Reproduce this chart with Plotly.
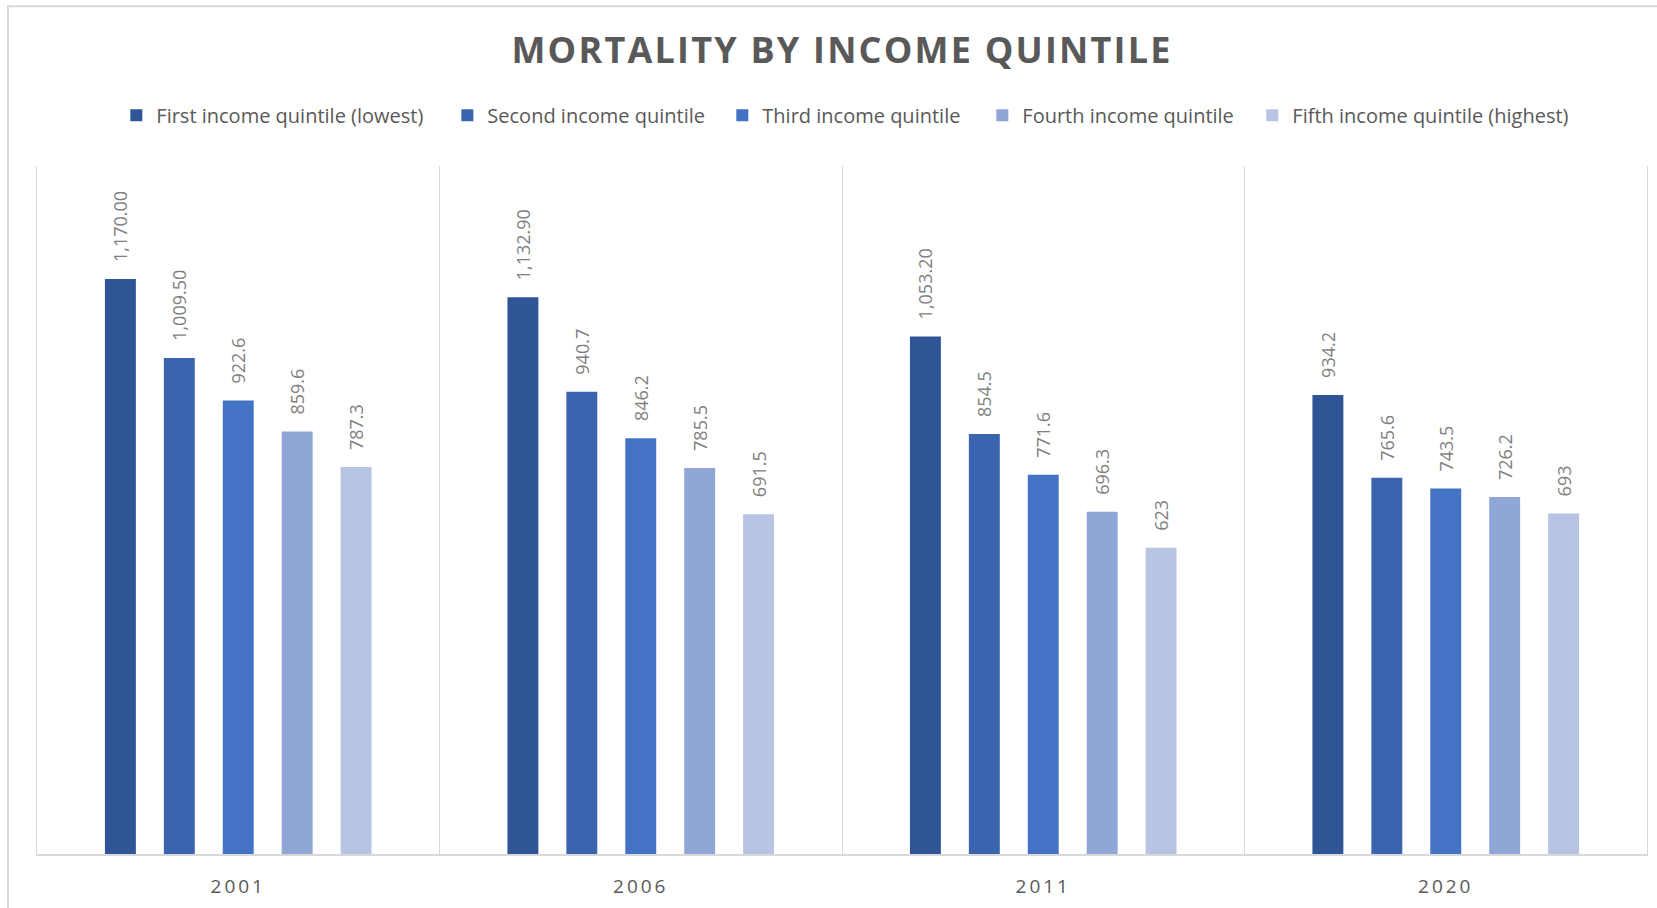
import plotly.graph_objects as go

years = ["2001", "2006", "2011", "2020"]
series_names = [
    "First income quintile (lowest)",
    "Second income quintile",
    "Third income quintile",
    "Fourth income quintile",
    "Fifth income quintile (highest)",
]
q1 = [1170.0, 1132.9, 1053.2, 934.2]
q2 = [1009.5, 940.7, 854.5, 765.6]
q3 = [922.6, 846.2, 771.6, 743.5]
q4 = [859.6, 785.5, 696.3, 726.2]
q5 = [787.3, 691.5, 623.0, 693.0]
q1_labels = ["1,170.00", "1,132.90", "1,053.20", "934.2"]
q2_labels = ["1,009.50", "940.7", "854.5", "765.6"]
q3_labels = ["922.6", "846.2", "771.6", "743.5"]
q4_labels = ["859.6", "785.5", "696.3", "726.2"]
q5_labels = ["787.3", "691.5", "623", "693"]
colors = ["#2F5597", "#3A64AD", "#4472C4", "#8FA6D6", "#B8C4E4"]
legend_widths = [286, 230, 215, 225, 280]

values = [q1, q2, q3, q4, q5]
labels = [q1_labels, q2_labels, q3_labels, q4_labels, q5_labels]

FONT = "Open Sans"
PAD = "\u00a0\u00a0\u00a0"

fig = go.Figure()
for name, vals, labs, col, lw in zip(series_names, values, labels, colors, legend_widths):
    fig.add_trace(go.Bar(
        name=name, x=years, y=vals,
        text=[PAD + t for t in labs],
        textposition="outside",
        textangle=-90,
        cliponaxis=False,
        constraintext="none",
        textfont=dict(family=FONT, size=18, color="#7F7F7F"),
        marker=dict(color=col, line=dict(width=0)),
        legendwidth=lw,
    ))

W, H = 1657, 908
ml, mr, mt, mb = 37, 9, 166, 49
pw, ph = W - ml - mr, H - mt - mb

fig.update_layout(
    width=W, height=H,
    margin=dict(l=ml, r=mr, t=mt, b=mb, pad=0),
    paper_bgcolor="white", plot_bgcolor="white",
    barmode="group", bargap=0.268, bargroupgap=0.475,
    title=dict(
        text="<b>MORTALITY BY INCOME QUINTILE</b>",
        x=0.5, xref="paper", xanchor="center",
        y=1 - 50 / H, yref="container", yanchor="middle",
        font=dict(family=FONT, size=36, color="#595959"),
    ),
    legend=dict(
        orientation="h", x=0.503, xanchor="center",
        y=(H - mb - 115) / ph, yanchor="middle",
        font=dict(family=FONT, size=20, color="#595959"),
        itemclick=False, traceorder="normal",
    ),
    xaxis=dict(
        type="category", tickson="boundaries", showgrid=True,
        gridcolor="#D9D9D9", gridwidth=1,
        showline=True, linecolor="#D9D9D9", linewidth=1.5,
        ticks="", ticklabelstandoff=14,
        tickfont=dict(family=FONT, size=19, color="#595959"),
    ),
    yaxis=dict(
        range=[0, 1400], showticklabels=False, showgrid=False,
        zeroline=False, showline=True, mirror=True,
        linecolor="#D9D9D9", linewidth=1, ticks="",
    ),
    shapes=[dict(
        type="rect", xref="paper", yref="paper",
        x0=(8 - ml) / pw, x1=1.2,
        y0=-0.3, y1=(H - mb - 5) / ph,
        line=dict(color="#D9D9D9", width=2), fillcolor="rgba(0,0,0,0)",
        layer="below",
    )],
)

post = """
document.body.style.margin = '0px';
var gd = document.getElementById('{plot_id}');
gd.querySelectorAll('.gtitle').forEach(function(e){ e.style.letterSpacing = '2.2px'; });
gd.querySelectorAll('.xtick text').forEach(function(e){ e.style.letterSpacing = '3px'; });
"""

fig.write_html("out.html", post_script=post, config={"displayModeBar": False})
